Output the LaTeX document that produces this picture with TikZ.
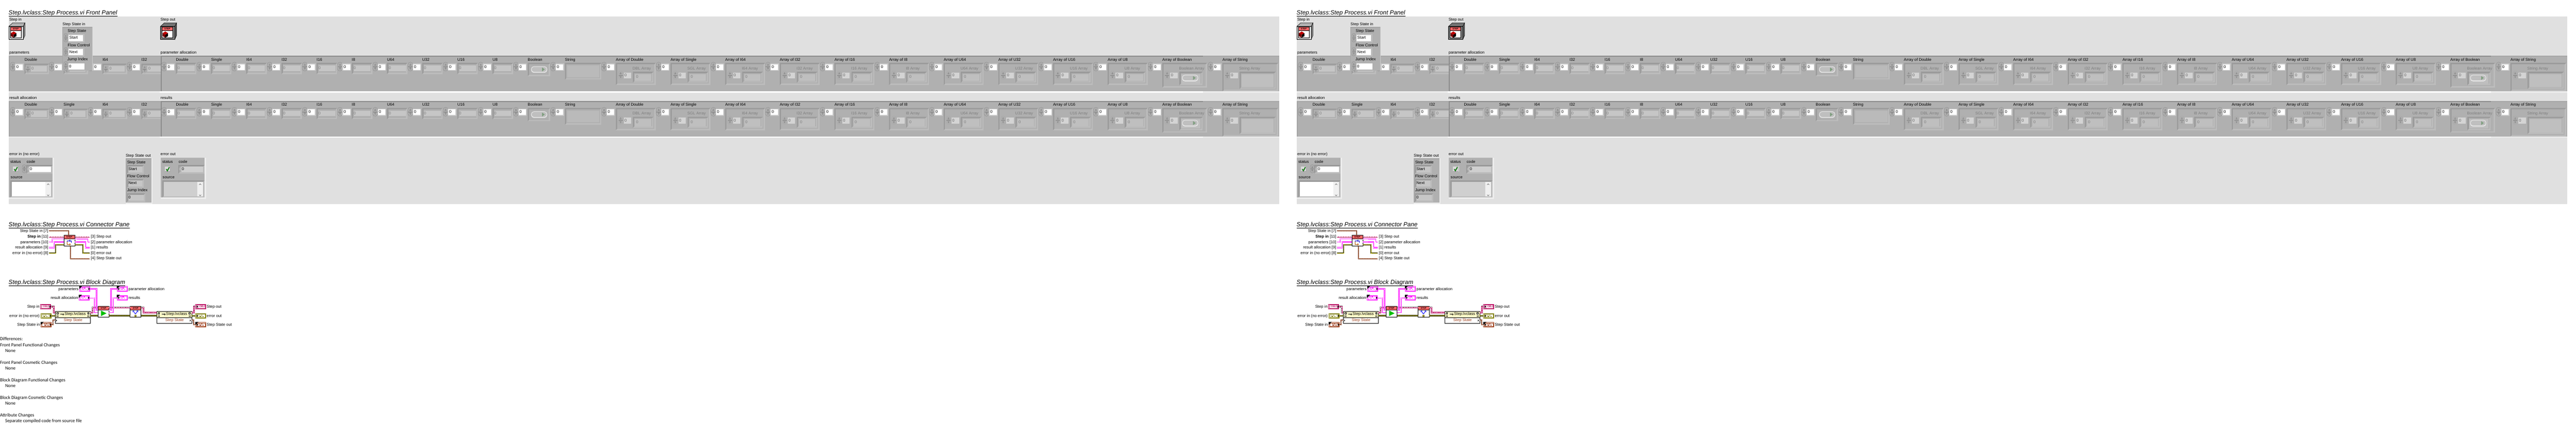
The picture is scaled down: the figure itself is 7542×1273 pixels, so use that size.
\documentclass[tikz,border=0pt]{standalone}
\usepackage{fontspec}
\setmainfont{Liberation Sans}
\newfontfamily\notefont{Carlito}
\definecolor{panelbg}{HTML}{E0E0E0}
\definecolor{clusterbg}{HTML}{B0B0B0}
\definecolor{bevdark}{HTML}{9A9A9A}
\definecolor{bevlit}{HTML}{BCBCBC}
\definecolor{boxgray}{HTML}{C6C6C6}
\definecolor{lvdim}{HTML}{7E7E7E}
\definecolor{stephead}{HTML}{FF6666}
\definecolor{lvclass}{HTML}{BE1A6A}
\definecolor{lvpink}{HTML}{FF22FF}
\definecolor{lvolive}{HTML}{84840A}
\definecolor{lvbrown}{HTML}{A0421E}
\tikzset{
  lbl/.style={font=\fontsize{11.6}{14}\selectfont, inner sep=0pt, anchor=west, text height=8.5pt, text depth=2.5pt},
  lblr/.style={lbl, anchor=east},
  ttl/.style={font=\fontsize{17.65}{22}\selectfont\itshape, inner sep=0pt, anchor=west, text height=13pt, text depth=4pt},
  note/.style={font=\notefont\fontsize{13.75}{17}\selectfont, inner sep=0pt, anchor=west, text height=9pt, text depth=3pt},
  paneleft/.style={lbl, anchor=east, outer xsep=3pt},
  paneright/.style={lbl, outer xsep=3pt},
  vibox/.style={draw=black, fill=white, line width=1pt, minimum width=32, minimum height=32, inner sep=0pt, outer sep=0pt},
  vihead/.style={draw=black, fill=stephead, line width=1pt, minimum width=32, minimum height=11, inner sep=0pt, font=\bfseries\fontsize{6.5}{7}\selectfont},
  bundbox/.style={draw=black, fill=white, line width=1pt, minimum width=102, minimum height=35, inner sep=0pt, outer sep=0pt},
  termbox/.style={line width=1.6pt, fill=white, minimum width=30, minimum height=14, inner sep=0pt, outer sep=.8pt, font=\bfseries\fontsize{8}{9}\selectfont},
  pinkwire/.style={preaction={draw=lvpink, line width=3.6pt, solid}, draw=white, line width=1.2pt, dash pattern=on 2pt off 1pt},
  classwire/.style={preaction={draw=lvclass, line width=3.4pt, solid}, draw=white, line width=1.2pt, dash pattern=on 3pt off 2pt},
  classgray/.style={preaction={draw=gray, line width=5pt, solid}, classwire},
  errwire/.style={preaction={draw=black!60!lvolive, line width=3.4pt, solid}, draw=yellow, line width=1.2pt, dash pattern=on 1.5pt off 1.5pt},
  enumwire/.style={preaction={draw=black!25!lvbrown, line width=3.2pt, solid}, draw=white!80!orange, line width=1.1pt, dash pattern=on 1.5pt off 1.5pt},
  spinact/.style={draw=black!45, left color=black!32, middle color=black!10, right color=black!32, line width=.6pt},
  spinoff/.style={draw=black!32, left color=black!32, middle color=black!22, right color=black!32, line width=.5pt},
}
% raised frame: left and top dark, right and bottom light
\newcommand{\recess}[5]{
  \fill[bevlit] (#1,#2) rectangle (#3,#4);
  \fill[bevdark] (#1,#2) -- (#3,#2) -- (#3-4,#2+4) -- (#1+4,#2+4) -- (#1+4,#4-4) -- (#1,#4) -- cycle;
  \fill[#5] (#1+4,#2+4) rectangle (#3-4,#4-4);
}
\newcommand{\spin}[5]{
  \path[#5, rounded corners=.48*#3] (#1,#2) rectangle (#1+#3,#2+#4);
  \draw[black!50, line width=.4pt] (#1+1,#2+.5*#4) -- (#1+#3-1,#2+.5*#4);
  \draw[black!55, line width=.5pt] (#1+.5*#3-2,#2+.38*#4) -- (#1+.5*#3,#2+.2*#4) -- (#1+.5*#3+2,#2+.38*#4) -- cycle;
  \draw[black!55, line width=.5pt] (#1+.5*#3-2,#2+.62*#4) -- (#1+.5*#3,#2+.8*#4) -- (#1+.5*#3+2,#2+.62*#4) -- cycle;
}
\newcommand{\elem}[3]{
  \spin{#1-42}{182+#2}{15}{26}{spinact}
  \fill[black!22] (#1-28,186+#2) rectangle (#1-3,207+#2);
  \fill[white] (#1-26,188+#2) rectangle (#1-5,205+#2);
  \node[lbl] (cap#1-#2) at (#1,175+#2) {#3};
  \node[lbl] (idx#1-#2) at (#1-24,196.5+#2) {0};
}
\newcommand{\ctlel}[3]{
  \elem{#1}{#2}{#3}
  \recess{#1}{186+#2}{#1+72}{217+#2}{clusterbg}
  \spin{#1+3}{190+#2}{13}{24}{spinoff}
  \fill[boxgray] (#1+18,193+#2) rectangle (#1+65,210+#2);
  \node[lbl, text=lvdim] (val#1-#2) at (#1+20,201+#2) {0};
}
\newcommand{\numel}[3]{
  \elem{#1}{#2}{#3}
  \recess{#1}{184+#2}{#1+60}{217+#2}{clusterbg}
  \fill[boxgray] (#1+6,192+#2) rectangle (#1+55,208+#2);
  \node[lbl, text=lvdim] (val#1-#2) at (#1+5,200+#2) {0};
}
\newcommand{\lvbutton}[2]{
  \fill[white!75!clusterbg, rounded corners=8pt] (#1,#2) rectangle (#1+47,#2+19);
  \fill[black!25, rounded corners=7pt] (#1+1.5,#2+1.5) rectangle (#1+45.5,#2+16.5);
  \fill[green!25!black!50] (#1+32,#2+3.5) -- (#1+40,#2+9) -- (#1+32,#2+15) -- cycle;
}
% array: L, row, width, bottom, caption, sub caption, inner width, inner bottom
\newcommand{\arrel}[8]{
  \elem{#1}{#2}{#5}
  \recess{#1}{184+#2}{#1+#3}{#4+#2}{clusterbg}
  \node[lbl, text=lvdim] (sub#1-#2) at (#1+49,201+#2) {#6};
  \spin{#1+7}{207+#2}{14}{26}{spinoff}
  \fill[black!17] (#1+23,212+#2) rectangle (#1+45,230+#2);
  \node[lbl, text=black!60] (sid#1-#2) at (#1+25,221+#2) {0};
  \recess{#1+50}{210+#2}{#1+50+#7}{#8+#2}{clusterbg}
  \fill[black!25] (#1+56,217+#2) rectangle (#1+44+#7,#8-5+#2);
}
% class control: name, left, front, top, side
\newcommand{\classctl}[5]{
  \draw[black, fill=#4, line width=.8pt] (#2,77) -- (#2+11,67) -- (#2+47,67) -- (#2+42,77) -- cycle;
  \draw[black, fill=#5, line width=.8pt] (#2+42,77) -- (#2+47,67) -- (#2+47,104) -- (#2+42,115) -- cycle;
  \node[draw=black, fill=#3, line width=.8pt, minimum width=42, minimum height=38, inner sep=0pt] (#1) at (#2+21,96) {};
  \node[draw=black, fill=white, line width=.8pt, minimum width=32, minimum height=32, inner sep=0pt] (#1i) at (#2+20,95) {};
  \node[vihead, minimum height=11, line width=.8pt] (#1h) at (#2+20,84.5) {STEP};
  \fill[red!75!black] (#2+6,97) -- (#2+14,92) -- (#2+22,97) -- (#2+14,102) -- cycle;
  \fill[red!45!black] (#2+6,97) -- (#2+14,102) -- (#2+14,110) -- (#2+6,106) -- cycle;
  \fill[black] (#2+22,97) -- (#2+14,102) -- (#2+14,110) -- (#2+22,106) -- cycle;
}
% error cluster: left, source fill
\newcommand{\errclu}[3]{
  \fill[clusterbg] (#1,462) rectangle (#1+129,578);
  \fill[black!30] (#1,462) rectangle (#1+129,465);
  \fill[black!30] (#1,462) rectangle (#1+3,578);
  \fill[black!7] (#1,578) rectangle (#1+133,582);
  \fill[black!7] (#1+129,462) rectangle (#1+133,582);
  \node[lbl] (#3a) at (#1+5,475) {status};
  \node[lbl] (#3b) at (#1+53,474) {code};
  \node[lbl] (#3c) at (#1+6,519) {source};
  \fill[white!60!boxgray] (#1+12,486) rectangle (#1+30,503);
  \fill[black!35] (#1+12,486) rectangle (#1+29,502);
  \fill[black!15] (#1+13,487) rectangle (#1+28,501);
  \draw[black, line width=2.4pt] (#1+17,495) -- (#1+20,500) -- (#1+26,489);
  \draw[green!85!black, line width=1.1pt] (#1+17,495) -- (#1+20,500) -- (#1+26,489);
  \recess{#1+52}{483}{#1+129}{508}{clusterbg}
  \fill[#2] (#1+61,487) rectangle (#1+125,504);
  \node[lbl, text=black!20] (#3r) at (#1+54,496) {d};
  \node[lbl] (#3v) at (#1+62,496) {0};
  \recess{#1+5}{528}{#1+129}{578}{#2}
  \fill[black!6] (#1+108,532) rectangle (#1+125,574);
  \draw[black!60, line width=1pt] (#1+113,541) -- (#1+116,538) -- (#1+119,541);
  \draw[black!60, line width=1pt] (#1+113,570) -- (#1+116,573) -- (#1+119,570);
}
% step state indicator row: top, value, right edge of the frame
\newcommand{\ssrow}[4]{
  \recess{372}{#1}{#3}{#1+25}{boxgray}
  \node[lbl] (#4) at (376,#1+12.5) {#2};
}
\newcommand{\clicon}[3]{
  \fill[#3] (#1,#2) rectangle (#1+3,#2+2);
  \fill[#3] (#1+5,#2) rectangle (#1+10,#2+2);
  \fill[#3] (#1,#2+4) rectangle (#1+7,#2+6);
  \fill[#3] (#1+10,#2+4) rectangle (#1+13,#2+6);
}
% terminals: name, left, top, colour, text
\newcommand{\ctlterm}[5]{
  \node[termbox, draw=#4, text=#4] (#1) at (#2+16,#3+7.5) {#5};
  \draw[#4, line width=.6pt] (#2+3,#3+2.5) rectangle (#2+29,#3+12.5);
  \fill[#4, opacity=.28] (#2+23,#3+2) rectangle (#2+30,#3+13);
  \fill[black] (#2+27,#3+4) -- (#2+31,#3+7.5) -- (#2+27,#3+11) -- cycle;
}
\newcommand{\indterm}[5]{
  \node[termbox, draw=#4, text=#4] (#1) at (#2+16,#3+7.5) {#5};
  \draw[#4, line width=.6pt] (#2+3,#3+2.5) rectangle (#2+29,#3+12.5);
  \fill[#4, opacity=.28] (#2+2,#3+2) rectangle (#2+10,#3+13);
  \fill[black] (#2+4,#3+4) -- (#2+8,#3+7.5) -- (#2+4,#3+11) -- cycle;
}
\newcommand{\corner}[2]{
  \fill[black] (#1,#2-1) -- (#1+9,#2-1) -- (#1,#2+8) -- cycle;
}
% doc and warning marks on a bundle head
\newcommand{\bundmarks}[2]{
  \draw[black, fill=white, line width=.6pt] (#1,#2) rectangle (#1+4,#2+5);
  \fill[black] (#1,#2+9) rectangle (#1+1.5,#2+14);
  \fill[black] (#1+3,#2+9) rectangle (#1+4.5,#2+14);
}
\begin{document}
\begin{tikzpicture}[x=1pt, y=-1pt]
\useasboundingbox (0,0) rectangle (7542,1273);
\fill[white] (0,0) rectangle (7542,1273);
\foreach \sh/\off in {a/0,b/3771} {
\begin{scope}[xshift=\off, name prefix=\sh-]
% front panel
\node[ttl] (fptitle) at (25,38.5) {Step.lvclass:Step Process.vi Front Panel};
\draw[black, line width=1.4pt] (fptitle.south west) to (fptitle.south east);
\fill[panelbg] (25,49) rectangle (3746,597);
\node[lbl] (stepinlbl) at (27,58) {Step in};
\node[lbl] (stepoutlbl) at (470,58) {Step out};
\classctl{stepinctl}{26}{black!12}{black!30}{black!45}
\classctl{stepoutctl}{470}{black!50}{black!55}{black!62}
\foreach \ry/\cl/\cr in {0/parameters/parameter allocation,132/result allocation/results} {
  \fill[clusterbg] (26,163+\ry) rectangle (3745,267+\ry);
  \fill[black!35] (26,163+\ry) rectangle (3745,166+\ry);
  \fill[black!35] (26,163+\ry) rectangle (28,267+\ry);
  \fill[black!7] (26,267+\ry) rectangle (3745,271+\ry);
  \node[lbl] (clu\ry) at (27,155+\ry) {\cl};
  \node[lbl] (cru\ry) at (470,155+\ry) {\cr};
  \foreach \L/\nm in {72/Double,186/Single,300/I64,414/I32} {\ctlel{\L}{\ry}{\nm}}
  \fill[clusterbg] (473,166+\ry) rectangle (3522,267+\ry);
  \fill[black!45] (470,163+\ry) rectangle (3522,166+\ry);
  \fill[black!45] (470,163+\ry) rectangle (473,268+\ry);
  \fill[white] (468,267+\ry) rectangle (3522,271+\ry);
  \foreach \L/\nm in {515/Double,618/Single,721/I64,824/I32,927/I16,1030/I8,1133/U64,1236/U32,1339/U16,1442/U8} {\numel{\L}{\ry}{\nm}}
  \elem{1545}{\ry}{Boolean}
  \recess{1545}{184+\ry}{1611}{223+\ry}{clusterbg}
  \lvbutton{1555}{194+\ry}
  \elem{1654}{\ry}{String}
  \recess{1654}{184+\ry}{1761}{233+\ry}{clusterbg}
  \fill[black!27] (1660,192+\ry) rectangle (1755,226+\ry);
  \foreach \L/\nm/\sb in {1803/Double/DBL,1963/Single/SGL,2123/I64/I64,2283/I32/I32,2443/I16/I16,2603/I8/I8,2763/U64/U64,2923/U32/U32,3083/U16/U16,3243/U8/U8} {
    \arrel{\L}{\ry}{117}{249}{Array of \nm}{\sb{} Array}{60}{242}
    \node[lbl, text=lvdim] (sval\L-\ry) at (\L+59,226+\ry) {0};
  }
  \arrel{3403}{\ry}{131}{256}{Array of Boolean}{Boolean Array}{68}{249}
  \lvbutton{3461}{219+\ry}
  \arrel{3579}{\ry}{163}{267}{Array of String}{String Array}{106}{260}
}
% state control sits over the first cluster
\node[lbl] (ssinlbl) at (183,72) {Step State in};
\fill[clusterbg] (182,79) rectangle (272,207);
\fill[black!35] (182,79) rectangle (272,82);
\fill[black!35] (182,79) rectangle (184,207);
\fill[black!20] (270,79) rectangle (272,207);
\foreach \top/\cp/\vl/\lx in {92/Step State/Start/198,133/Flow Control/Next/198} {
  \node[lbl] (sscap\top) at (\lx,\top) {\cp};
  \spin{187}{\top+6}{11}{25}{spinact}
  \fill[bevlit] (199,\top+8) rectangle (247,\top+31);
  \fill[white] (200,\top+11) rectangle (243,\top+28);
  \node[lbl] (ssval\top) at (203,\top+19.5) {\vl};
}
\node[lbl] (ssjump) at (197,174) {Jump Index};
\spin{187}{180}{11}{26}{spinact}
\fill[white] (200,186) rectangle (247,203);
\node[lbl] (ssjval) at (202,195) {0};
% errors and state out
\node[lbl] (errinlbl) at (27,452) {error in (no error)};
\errclu{25}{white}{ein}
\spin{65}{482}{12}{24}{spinact}
\node[lbl] (erroutlbl) at (470,452) {error out};
\errclu{470}{black!19}{eot}
\node[lbl] (ssoutlbl) at (368,456) {Step State out};
\fill[clusterbg] (368,463) rectangle (443,593);
\fill[black!35] (368,463) rectangle (443,466);
\fill[black!35] (368,463) rectangle (371,593);
\fill[black!7] (368,593) rectangle (446,597);
\fill[black!7] (443,463) rectangle (446,597);
\node[lbl] (ssocapa) at (372,476) {Step State};
\ssrow{483}{Start}{421}{ssoa}
\node[lbl] (ssocapb) at (372,517) {Flow Control};
\ssrow{524}{Next}{421}{ssob}
\node[lbl] (ssocapc) at (372,558) {Jump Index};
\ssrow{566}{0}{425}{ssoc}
% connector pane
\node[ttl] (cptitle) at (25,658.5) {Step.lvclass:Step Process.vi Connector Pane};
\draw[black, line width=1.4pt] (cptitle.south west) to (cptitle.south east);
\node[vibox] (cpvi) at (203,704) {};
\node[vihead] (cphead) at (203,693.5) {STEP};
\draw[blue!80!black, line width=1.5pt, <-] (202,704.5) -| (208.5,711);
\draw[blue!80!black, line width=1.5pt] (202,704.5) -| (197.5,708);
\draw[orange!70!black, line width=1.5pt, ->] (197.5,708) |- (207,715.5);
\node[paneleft] (cpssi) at (144,676) {Step State in [7]};
\node[paneleft, font=\fontsize{11.6}{14}\selectfont] (cpsin) at (144,693.5) {\textbf{Step in} [11]};
\node[paneleft] (cppar) at (144,709) {parameters [10]};
\node[paneleft] (cpres) at (144,725) {result allocation [9]};
\node[paneleft] (cperr) at (144,741) {error in (no error) [8]};
\node[paneright] (cpsot) at (263,693.5) {[3] Step out};
\node[paneright] (cppal) at (263,709) {[2] parameter allocation};
\node[paneright] (cprls) at (263,725) {[1] results};
\node[paneright] (cpeot) at (263,741) {[0] error out};
\node[paneright] (cpsso) at (263,757) {[4] Step State out};
\draw[enumwire] (cpssi.east) -| (cphead.north -| 200,0);
\draw[classwire] (cpsin.east) to (cphead.west);
\draw[classwire] (cphead.east) to (cpsot.west);
\draw[pinkwire] (cppar.east) -- ++(8,0) |- (cpvi.west |- 0,700);
\draw[pinkwire] (cpres.east) -- ++(14,0) |- (cpvi.west |- 0,708);
\draw[errwire] (cperr.east) -- ++(19,0) |- (cpvi.west |- 0,716);
\draw[pinkwire] (cpvi.east |- 0,700) -- ++(37,0) |- (cppal.west);
\draw[pinkwire] (cpvi.east |- 0,708) -- ++(31,0) |- (cprls.west);
\draw[errwire] (cpvi.east |- 0,716) -- ++(24,0) |- (cpeot.west);
\draw[enumwire] (207,720.5) |- (cpsso.west);
% block diagram
\node[ttl] (bdtitle) at (25,827.5) {Step.lvclass:Step Process.vi Block Diagram};
\draw[black, line width=1.4pt] (bdtitle.south west) to (bdtitle.south east);
\ctlterm{tpar}{232}{838}{lvpink}{}
\clicon{240}{842}{lvpink}
\corner{232}{838}
\node[lblr] (lpar) at (230,847) {parameters};
\ctlterm{tres}{231}{864}{lvpink}{}
\clicon{239}{868}{lvpink}
\corner{231}{864}
\node[lblr] (lres) at (229,873) {result allocation};
\ctlterm{tsin}{118}{890}{lvclass}{OBJ}
\node[lblr] (lsin) at (116,899) {Step in};
\ctlterm{terr}{119}{917}{lvolive}{}
\clicon{126}{921}{lvolive}
\node[lblr] (lerr) at (116,925) {error in (no error)};
\ctlterm{tssi}{119}{943}{lvbrown}{}
\clicon{129}{947}{lvbrown}
\corner{119}{943}
\node[lblr] (lssi) at (117,951) {Step State in};
\indterm{tpal}{342}{838}{lvpink}{}
\clicon{353}{842}{lvpink}
\corner{342}{838}
\node[lbl] (lpal) at (376,847) {parameter allocation};
\indterm{trls}{342}{864}{lvpink}{}
\clicon{353}{868}{lvpink}
\corner{342}{864}
\node[lbl] (lrls) at (376,873) {results};
\indterm{tsot}{572}{890}{lvclass}{\hspace{8pt}OBJ}
\node[lbl] (lsot) at (605,899) {Step out};
\indterm{teot}{572}{917}{lvolive}{}
\clicon{583}{921}{lvolive}
\node[lbl] (leot) at (605,925) {error out};
\indterm{tsso}{572}{943}{lvbrown}{}
\clicon{583}{947}{lvbrown}
\corner{572}{943}
\node[lbl] (lsso) at (605,951) {Step State out};
% unbundle, method and bundle
\foreach \nd/\bx/\ar in {unb/162/164,bnd/459/556} {
  \node[bundbox] (\nd) at (\bx+51,929.5) {};
  \node[draw=black, fill=yellow!22, line width=1pt, minimum width=102, minimum height=18, inner sep=0pt, outer sep=0pt] (\nd h) at (\bx+51,921) {};
  \node[lbl, anchor=center] (\nd t) at (\bx+58,920) {Step.lvclass};
  \node[lbl, anchor=center, text=lvbrown] (\nd s) at (\bx+52,938) {Step State};
  \bundmarks{\bx+4}{914}
  \bundmarks{\bx+94}{914}
  \draw[black, line width=1.4pt] (\bx+14,920) -- (\bx+21,920);
  \draw[black, line width=1pt] (\bx+23,920) circle (2pt);
  \fill[black] (\ar,935) -- (\ar+3,938) -- (\ar,941) -- cycle;
}
\node[vibox] (invk) at (303,912.5) {};
\node[vihead] (invkh) at (303,902) {STEP};
\fill[green!75!black] (296,909) -- (312,917) -- (296,925) -- cycle;
\node[vibox] (pres) at (397,912.5) {};
\node[vihead] (presh) at (397,902) {STEP};
\fill[olive!70!gray] (393,921) rectangle (400,928);
\draw[blue, line width=1.4pt, <->] (389,909) -- (396.5,919) -- (404,909);
\draw[classgray] (tsin.east) -- ++(8,0) |- (unb.west |- 0,915);
\draw[errwire] (terr.east) to (unb.west |- 0,924);
\draw[enumwire] (tssi.east) -- ++(5,0) |- (unb.west |- 0,937);
\draw[classgray] (unb.east |- 0,915) -- ++(7,0) |- (invk.west |- 0,900);
\draw[errwire] (unb.east |- 0,924) to (invk.west |- 0,924);
\draw[pinkwire] (tpar.east) -- ++(19,0) |- (invk.west |- 0,908);
\draw[pinkwire] (tres.east) -- ++(13,0) |- (invk.west |- 0,916);
\draw[classgray] (invk.east |- 0,900) to (pres.west |- 0,900);
\draw[pinkwire] (invk.east |- 0,908) -- ++(6,0) |- (tpal.west);
\draw[pinkwire] (invk.east |- 0,916) -- ++(13,0) |- (trls.west);
\draw[errwire] (invk.east |- 0,924) to (pres.west |- 0,924);
\draw[classgray] (pres.east |- 0,900) -- ++(7,0) |- (bnd.west |- 0,915);
\draw[errwire] (pres.east |- 0,924) to (bnd.west |- 0,924);
\draw[classgray] (bnd.east |- 0,915) -- ++(7,0) |- (tsot.west);
\draw[errwire] (bnd.east |- 0,924) to (teot.west);
\draw[enumwire] (bnd.east |- 0,937) -- ++(6,0) |- (tsso.west);
\end{scope}
}
% change notes, below the first sheet only
\foreach \nn/\tx/\nx/\ny in {1/Differences:/0/994,2/Front Panel Functional Changes/0/1011,3/None/15/1028,4/Front Panel Cosmetic Changes/0/1063,5/None/15/1080,6/Block Diagram Functional Changes/0/1114,7/None/15/1131,8/Block Diagram Cosmetic Changes/0/1165,9/None/15/1182,10/Attribute Changes/0/1216,11/Separate compiled code from source file/15/1233} {
  \node[note] (note\nn) at (\nx,\ny) {\tx};
}
\end{tikzpicture}
\end{document}
